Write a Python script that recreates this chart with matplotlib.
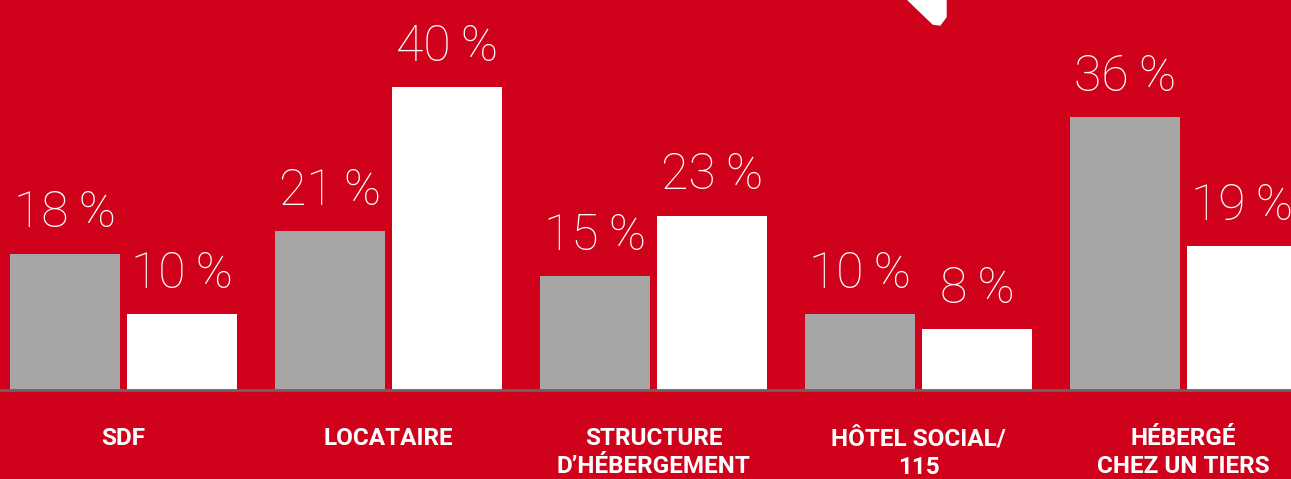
import numpy as np
import matplotlib.pyplot as plt
from matplotlib.patches import Polygon

# data
categories = ["SDF", "LOCATAIRE", "STRUCTURE\nD\u2019H\u00c9BERGEMENT", "H\u00d4TEL SOCIAL/\n115", "H\u00c9BERG\u00c9\nCHEZ UN TIERS"]
gray_vals = [18, 21, 15, 10, 36]
white_vals = [10, 40, 23, 8, 19]

red = "#d0011b"
gray = "#a7a5a6"

fig = plt.figure(figsize=(12.91, 4.79), dpi=100, facecolor=red)
ax = fig.add_axes([0, 0, 1, 1])
ax.set_facecolor(red)

x = np.arange(len(categories))
w = 0.415
off = 0.2208
ax.bar(x - off, gray_vals, w, color=gray, zorder=2)
ax.bar(x + off, white_vals, w, color="white", zorder=2)

# baseline
ax.axhline(0, color="#6b6266", lw=2, zorder=3)

pct_font = ["Roboto", "DejaVu Sans"]
for xs, vals in [(x - off, gray_vals), (x + off, white_vals)]:
    for xi, v in zip(xs, vals):
        ax.annotate(f"{v}\u2009%", (xi, v), xytext=(0, 19), textcoords="offset points",
                    ha="center", va="baseline", color="white", fontsize=36,
                    fontweight="light", family=pct_font)

for xi, lab in zip(x, categories):
    ax.annotate(lab, (xi, 0), xytext=(0, -26.5), textcoords="offset points",
                ha="center", va="top", color="white", fontsize=17.5,
                fontweight="bold", family=["Roboto", "DejaVu Sans"], linespacing=1.3)

ax.set_xlim(-0.466, 4.406)
ax.set_ylim(-11.76, 51.52)
ax.axis("off")

# white speech-bubble tail at the top
tail = Polygon([(908, 479), (946, 479), (946, 462), (940, 454), (933, 455)],
               closed=True, transform=None, color="white")
fig.patches.append(tail)

fig.savefig("out.png", dpi=100, facecolor=red)
